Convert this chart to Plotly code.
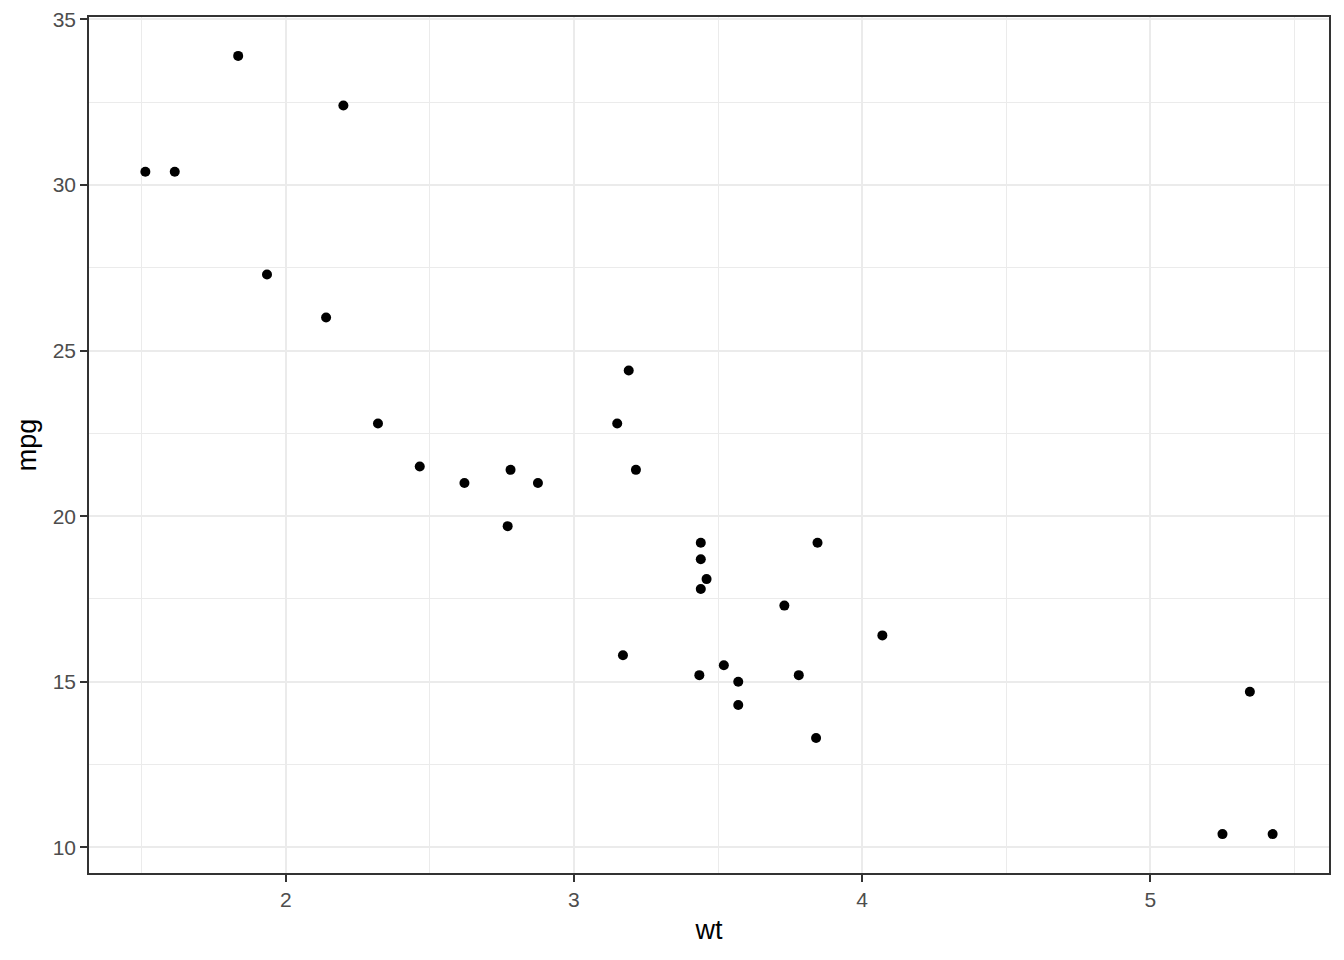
import plotly.graph_objects as go

# mtcars: weight (1000 lbs) vs miles per gallon
wt = [2.620, 2.875, 2.320, 3.215, 3.440, 3.460, 3.570, 3.190, 3.150, 3.440,
      3.440, 4.070, 3.730, 3.780, 5.250, 5.424, 5.345, 2.200, 1.615, 1.835,
      2.465, 3.520, 3.435, 3.840, 3.845, 1.935, 2.140, 1.513, 3.170, 2.770,
      3.570, 2.780]
mpg = [21.0, 21.0, 22.8, 21.4, 18.7, 18.1, 14.3, 24.4, 22.8, 19.2,
       17.8, 16.4, 17.3, 15.2, 10.4, 10.4, 14.7, 32.4, 30.4, 33.9,
       21.5, 15.5, 15.2, 13.3, 19.2, 27.3, 26.0, 30.4, 15.8, 19.7,
       15.0, 21.4]

x_ticks = [2, 3, 4, 5]
y_ticks = [10, 15, 20, 25, 30, 35]


def expand(values, mult=0.05):
    lo, hi = min(values), max(values)
    pad = (hi - lo) * mult
    return [lo - pad, hi + pad]


FONT = "Liberation Sans, Arial"

fig = go.Figure()
fig.add_trace(go.Scatter(
    x=wt, y=mpg, mode="markers",
    marker=dict(color="black", size=10, line=dict(width=0)),
    showlegend=False,
))

axis_common = dict(
    showgrid=True, gridcolor="#EBEBEB", gridwidth=1.8,
    minor=dict(showgrid=True, gridcolor="#EBEBEB", gridwidth=0.9),
    showline=True, mirror=True, linecolor="#333333", linewidth=1.6,
    ticks="outside", ticklen=7, tickwidth=2, tickcolor="#333333",
    tickfont=dict(family=FONT, size=21, color="#4D4D4D"),
    ticklabeloverflow="allow", automargin=False,
    zeroline=False,
)

fig.update_xaxes(
    range=expand(wt), tickvals=x_ticks, minor_dtick=0.5, minor_tick0=1.5,
    title=dict(text="wt", font=dict(family=FONT, size=27, color="black"), standoff=10),
    **axis_common,
)
fig.update_yaxes(
    range=expand(mpg), tickvals=y_ticks, minor_dtick=5, minor_tick0=12.5,
    title=dict(text="mpg", font=dict(family=FONT, size=27, color="black"), standoff=8),
    **axis_common,
)

# page body adds an 8px offset, margins compensate for it
fig.update_layout(
    width=1344, height=960,
    margin=dict(l=81, r=23, t=9, b=95),
    plot_bgcolor="white", paper_bgcolor="white",
)

fig.write_html("out.html")
